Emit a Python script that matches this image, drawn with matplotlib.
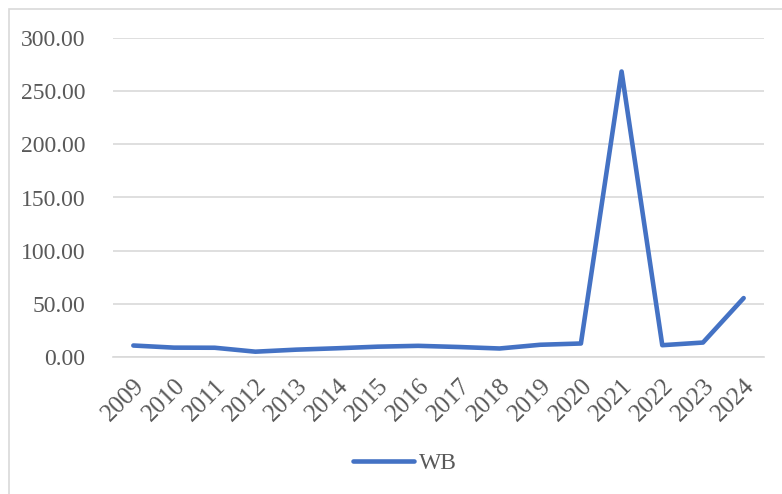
import matplotlib
matplotlib.use("Agg")
import matplotlib.pyplot as plt
from matplotlib.patches import Rectangle

years = ["2009", "2010", "2011", "2012", "2013", "2014", "2015", "2016",
         "2017", "2018", "2019", "2020", "2021", "2022", "2023", "2024"]
wb = [10.8, 8.8, 8.7, 5.0, 6.9, 8.2, 9.7, 10.5, 9.4, 8.0, 11.5, 12.7,
      268.5, 11.1, 13.6, 55.4]
y_ticks = [0, 50, 100, 150, 200, 250, 300]

W, H = 782, 494
plt.rcParams['font.family'] = ['Liberation Serif', 'DejaVu Serif']
fig = plt.figure(figsize=(W / 100, H / 100), dpi=100)
ax = fig.add_axes([113 / W, 1 - 357 / H, (764 - 113) / W, (357 - 38) / H])

x = list(range(len(years)))
line, = ax.plot(x, wb, color='#4472C4', lw=3.3, solid_capstyle='round',
                solid_joinstyle='round', label='WB')

ax.set_xlim(-0.5, len(years) - 0.5)
ax.set_ylim(0, 300)
ax.set_yticks(y_ticks)
ax.set_yticklabels([f"{v:.2f}" for v in y_ticks])
ax.set_xticks(x)
ax.set_xticklabels(years, rotation=45, ha='right', rotation_mode='anchor')
ax.grid(axis='y', color='#D9D9D9', lw=1.2)
ax.set_axisbelow(True)
for s in ['top', 'right', 'left']:
    ax.spines[s].set_visible(False)
ax.spines['bottom'].set_color('#D9D9D9')
ax.spines['bottom'].set_linewidth(1.2)
ax.tick_params(axis='y', length=0, pad=20, labelsize=17, labelcolor='#595959')
ax.tick_params(axis='x', length=0, pad=13, labelsize=18, labelcolor='#595959')

leg = fig.legend(handles=[line], loc='center', bbox_to_anchor=(405 / W, 1 - 463 / H),
                 frameon=False, fontsize=17, handlelength=2.6, handletextpad=0.2)
for t in leg.get_texts():
    t.set_color('#595959')

fig.patches.append(Rectangle((9 / W, -0.1), 1.2, 1.1 - 9 / H, transform=fig.transFigure,
                             fill=False, edgecolor='#D9D9D9', lw=1.2))

fig.savefig('out.png', dpi=100)
